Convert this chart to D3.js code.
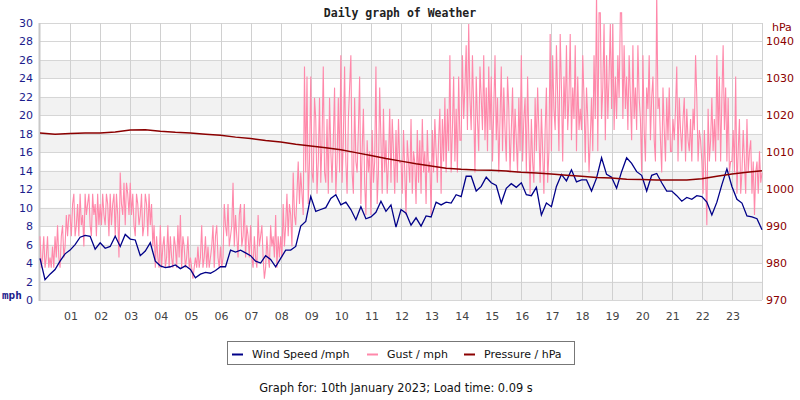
<!DOCTYPE html>
<html><head><meta charset="utf-8">
<script src="https://cdn.jsdelivr.net/npm/d3@7"></script>
<style>body{margin:0;background:#fff}svg{display:block}</style>
</head><body><svg id="c" width="800" height="400"></svg>
<script>
const title = "Daily graph of Weather";
const footer = "Graph for: 10th January 2023; Load time: 0.09 s";
const hourLabels = ["01","02","03","04","05","06","07","08","09","10","11","12","13","14","15","16","17","18","19","20","21","22","23"];
const mphTicks = [0,2,4,6,8,10,12,14,16,18,20,22,24,26,28,30];
const hpaTicks = [970,980,990,1000,1010,1020,1030,1040];
const seriesNames = ["Wind Speed /mph","Gust / mph","Pressure / hPa"];

// wind speed, one value every 10 minutes (mph)
const windStepMin = 10;
const wind = [4.5,2.2,2.8,3.3,4.2,5.0,5.4,6.0,6.8,7.0,6.9,5.5,6.2,5.6,5.8,6.9,5.8,7.1,6.6,6.5,4.8,5.3,6.2,4.2,3.7,3.5,3.6,3.8,3.4,3.7,3.3,2.4,2.8,3.0,2.9,3.2,3.6,3.6,5.4,5.2,5.4,5.1,4.8,4.2,4.0,4.8,4.4,3.6,4.5,5.4,5.4,5.8,8.0,8.5,11.2,9.6,9.8,10.0,11.0,11.4,10.3,10.6,9.8,8.7,10.1,8.8,9.0,9.5,10.7,9.6,10.3,7.9,9.8,9.4,8.1,8.9,8.0,9.1,9.0,10.6,10.3,10.6,10.5,11.4,11.2,13.4,13.4,11.8,12.3,13.3,12.7,12.4,10.5,12.1,12.6,12.2,12.7,11.4,11.3,12.2,9.2,10.5,10.1,12.3,13.6,12.9,14.1,12.8,13.0,13.0,11.8,13.2,15.4,13.6,13.3,12.1,13.9,15.4,14.8,13.9,13.5,11.8,13.5,13.7,12.7,11.8,11.8,11.3,10.7,11.1,10.9,11.3,11.2,10.6,9.2,10.6,12.5,14.2,12.3,10.9,10.5,9.1,9.0,8.8,7.6];

// gust, one value every 2.5 minutes (mph), one row per hour
const gustStepMin = 2.5;
const gust = [
6.9,3.5,4.6,6.9,3.5,4.6,6.9,3.5,4.6,3.5,5.8,3.5,6.9,4.6,8.1,4.6,3.5,6.9,8.1,4.6,5.8,9.2,6.9,9.2,
9.2,6.9,10.4,11.5,6.9,8.1,10.4,6.9,11.5,8.1,9.2,5.8,11.5,9.2,10.4,11.5,8.1,6.9,11.5,9.2,10.4,6.9,11.5,8.1,
10.4,8.1,11.5,9.2,8.1,11.5,10.4,6.9,11.5,8.1,10.4,11.5,6.9,11.5,9.2,4.6,13.8,10.4,9.2,12.7,8.1,12.7,11.5,9.2,
12.7,9.2,11.5,8.1,6.9,11.5,10.4,8.1,9.2,11.5,6.9,8.1,11.5,10.4,6.9,11.5,8.1,10.4,5.8,8.1,3.5,6.9,4.6,3.5,
8.1,3.5,5.8,6.9,3.5,4.6,8.1,3.5,6.9,4.6,3.5,6.9,5.8,3.5,8.1,4.6,9.2,3.5,6.9,5.8,3.5,4.6,6.9,3.5,
4.6,3.5,2.3,3.5,4.6,3.5,5.8,3.5,4.6,8.1,3.5,4.6,6.9,3.5,5.8,3.5,4.6,5.8,8.1,3.5,6.9,8.1,4.6,3.5,
5.8,3.5,4.6,10.4,8.1,6.9,10.4,5.8,6.9,8.1,12.7,5.8,9.2,6.9,4.6,9.2,10.4,5.8,6.9,10.4,4.6,8.1,6.9,4.6,
8.1,4.6,3.5,6.9,4.6,3.5,9.2,5.8,6.9,8.1,4.6,2.3,3.5,6.9,4.6,3.5,8.1,5.8,6.9,4.6,9.2,3.5,6.9,4.6,
6.9,4.6,10.4,5.8,8.1,11.5,6.9,10.4,9.2,5.8,13.8,9.2,8.1,11.5,15.0,10.4,13.8,11.5,9.2,25.3,13.8,24.2,10.4,15.0,
24.2,13.8,12.7,21.9,19.6,11.5,15.0,21.9,12.7,17.3,25.3,13.8,12.7,19.6,11.5,21.9,16.1,12.7,17.3,23.0,11.5,15.0,21.9,13.8,
26.5,12.7,17.3,25.3,15.0,11.5,19.6,23.0,26.5,13.8,11.5,21.9,15.0,13.8,18.4,24.2,10.4,16.1,20.7,12.7,9.2,17.3,13.8,16.1,
9.2,18.4,12.7,15.0,25.3,10.4,13.8,23.0,17.3,11.5,20.7,13.8,17.3,11.5,15.0,20.7,12.7,19.6,16.1,11.5,18.4,12.7,19.6,14.9,
15.0,11.5,18.4,13.8,9.2,17.3,15.0,12.7,19.6,11.5,16.1,14.9,10.4,18.4,12.7,17.3,11.5,19.6,13.8,16.1,10.4,18.4,13.8,15.0,
9.2,18.4,13.8,19.6,16.1,12.7,17.3,20.7,11.5,19.6,15.0,21.9,13.8,20.7,16.1,26.5,13.8,18.4,24.2,15.0,20.7,13.8,24.2,17.3,
17.3,26.5,19.6,23.0,27.6,18.4,29.9,21.9,18.4,26.5,20.7,13.8,24.2,19.6,16.1,25.3,21.9,18.4,26.5,17.3,23.0,16.1,25.3,18.4,
24.2,15.0,20.7,26.5,17.3,21.9,13.8,19.6,25.3,16.1,23.0,18.4,15.0,24.2,20.7,13.8,18.4,23.0,15.0,20.7,17.3,13.8,21.9,16.1,
26.5,15.0,19.6,21.9,13.8,24.2,17.3,11.5,19.6,15.0,12.7,21.9,16.1,23.0,18.4,12.7,20.7,16.1,11.5,18.4,23.0,12.7,16.1,28.8,
16.1,26.5,20.7,18.4,27.6,21.9,16.1,28.8,23.0,15.0,24.2,19.6,27.6,18.4,21.9,28.8,17.3,23.0,19.6,27.6,16.1,24.2,18.4,20.7,
18.4,26.5,21.9,14.9,23.0,19.6,13.8,17.3,21.9,16.1,26.5,19.6,33.4,16.1,31.1,31.1,19.6,23.0,29.9,17.3,26.5,19.6,24.2,29.9,
20.7,29.9,18.4,24.2,19.6,26.5,21.9,31.1,31.1,19.6,27.6,20.7,24.2,18.4,26.5,21.9,17.3,27.6,19.6,23.0,18.4,27.6,21.9,19.6,
13.8,26.5,18.4,15.0,23.0,20.7,26.5,17.3,21.9,24.2,17.3,15.0,33.4,20.7,21.9,17.3,13.8,23.0,18.4,15.0,21.9,17.3,23.0,16.1,
16.1,19.6,17.3,20.7,25.3,15.0,21.9,18.4,16.1,19.6,21.9,15.0,20.7,17.3,16.1,19.6,15.0,20.7,18.4,26.5,21.9,15.0,18.4,17.3,
15.0,11.5,18.4,13.8,8.1,20.7,15.0,17.3,21.9,16.1,19.6,15.0,26.5,17.3,24.2,15.0,21.9,27.6,18.4,23.0,15.0,21.9,13.8,15.0,
15.0,18.4,13.8,24.2,11.5,16.1,19.6,11.5,13.8,18.4,15.0,11.5,19.6,13.8,16.1,17.3,11.5,15.0,9.2,13.8,15.0,11.5,16.1,12.7,
13.8];

// pressure, one value every 30 minutes (hPa)
const pressStepMin = 30;
const pressure = [1015.2,1014.9,1015.1,1015.2,1015.2,1015.5,1016.0,1016.1,1015.7,1015.4,1015.2,1014.9,1014.6,1014.1,1013.7,1013.2,1012.8,1012.2,1011.7,1011.2,1010.7,1009.9,1009.1,1008.3,1007.6,1006.9,1006.3,1005.7,1005.4,1005.2,1005.1,1004.9,1004.6,1004.4,1004.1,1003.8,1003.5,1003.2,1003.0,1002.7,1002.6,1002.5,1002.5,1002.5,1002.8,1003.5,1004.1,1004.6,1005.0];

const colWind = "#000088", colGust = "#ff88aa", colPress = "#8b0000";
const colL = "#1c1c8c", colR = "#8b0000";

const svg = d3.select("#c");
const L = 40, R = 762, T = 23, B = 300;
const x = d3.scaleLinear().domain([0,24]).range([L,R]);
const yL = d3.scaleLinear().domain([0,30]).range([B,T]);
const yR = d3.scaleLinear().domain([970,1045]).range([B,T]);

// bands
const bandPairs = mphTicks.filter(v => v % 4 === 2 && v < 30);
svg.append("g").selectAll("rect").data(bandPairs).join("rect")
  .attr("x", L).attr("width", R-L)
  .attr("y", d => yL(d)).attr("height", d => yL(d-2)-yL(d))
  .attr("fill", "#f2f2f2");
// horizontal grid
svg.append("g").selectAll("line").data(mphTicks).join("line")
  .attr("x1", L).attr("x2", R)
  .attr("y1", d => Math.round(yL(d))+0.5).attr("y2", d => Math.round(yL(d))+0.5)
  .attr("stroke", "#d6d6d6");
// vertical grid
const hours = hourLabels.map(Number);
svg.append("g").selectAll("line").data(hours.concat([24])).join("line")
  .attr("x1", d => Math.round(x(d))+0.5).attr("x2", d => Math.round(x(d))+0.5)
  .attr("y1", T).attr("y2", B)
  .attr("stroke", "#d0d0d0");
// left spine
svg.append("line").attr("x1", L-0.5).attr("x2", L-0.5).attr("y1", T).attr("y2", B+1)
  .attr("stroke", "#c8c8c8").attr("stroke-width", 2);

// lines
const gustLine = d3.line().x((d,i) => x(i*gustStepMin/60)).y(d => yL(d));
svg.append("path").datum(gust).attr("d", gustLine).attr("fill","none")
  .attr("stroke", colGust).attr("stroke-width", 1.1);
const windLine = d3.line().x((d,i) => x(i*windStepMin/60)).y(d => yL(d));
svg.append("path").datum(wind).attr("d", windLine).attr("fill","none")
  .attr("stroke", colWind).attr("stroke-width", 1.3);
const pressLine = d3.line().x((d,i) => x(i*pressStepMin/60)).y(d => yR(d));
svg.append("path").datum(pressure).attr("d", pressLine).attr("fill","none")
  .attr("stroke", colPress).attr("stroke-width", 1.5);

// left ticks
svg.append("g").selectAll("text").data(mphTicks).join("text")
  .attr("x", 33).attr("y", d => yL(d)+4).attr("text-anchor","end")
  .attr("font-family","DejaVu Sans").attr("font-size", 11).attr("fill", colL)
  .text(d => d);
svg.append("text").attr("x", 2).attr("y", 299).attr("font-family","DejaVu Sans Mono")
  .attr("font-size", 11).attr("font-weight","bold").attr("fill", colL).text("mph");
// right ticks
svg.append("g").selectAll("text").data(hpaTicks).join("text")
  .attr("x", 766).attr("y", d => yR(d)+4)
  .attr("font-family","DejaVu Sans").attr("font-size", 11).attr("fill", colR)
  .text(d => d);
svg.append("text").attr("x", 772).attr("y", 31).attr("font-family","DejaVu Sans")
  .attr("font-size", 11).attr("fill", colR).text("hPa");
// bottom labels
svg.append("g").selectAll("text").data(hourLabels).join("text")
  .attr("x", d => x(+d)+1).attr("y", 320).attr("text-anchor","middle")
  .attr("font-family","DejaVu Sans").attr("font-size", 11).attr("fill", "#444")
  .text(d => d);

// title
svg.append("text").attr("x", 400).attr("y", 17).attr("text-anchor","middle")
  .attr("font-family","DejaVu Sans Mono").attr("font-weight","bold").attr("font-size", 11.5)
  .attr("fill","#222").text(title);

// legend
const lg = svg.append("g");
lg.append("rect").attr("x", 227.5).attr("y", 341.5).attr("width", 347).attr("height", 23)
  .attr("fill","#fff").attr("stroke","#777");
const legX = [232, 367, 464];
const legCols = [colWind, colGust, colPress];
seriesNames.forEach((n,i) => {
  lg.append("line").attr("x1", legX[i]).attr("x2", legX[i]+11).attr("y1", 354.5).attr("y2", 354.5)
    .attr("stroke", legCols[i]).attr("stroke-width", 2);
  lg.append("text").attr("x", legX[i]+20).attr("y", 358).attr("font-family","DejaVu Sans")
    .attr("font-size", 11).attr("fill","#111").text(n);
});

// footer
svg.append("text").attr("x", 396).attr("y", 392).attr("text-anchor","middle")
  .attr("font-family","DejaVu Sans").attr("font-size", 11.4).attr("fill","#111").text(footer);
</script></body></html>
